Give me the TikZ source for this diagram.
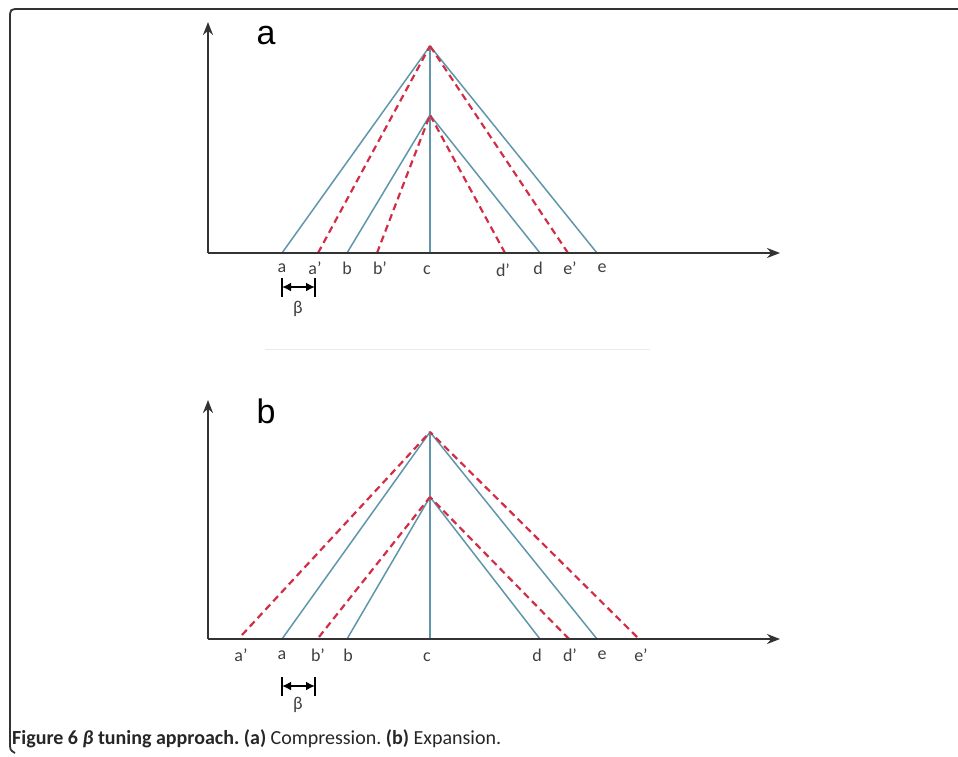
\documentclass[tikz,border=0pt]{standalone}
\usepackage{fontspec}
\setmainfont{Carlito}
\newfontfamily\arialf{Liberation Sans}
\usetikzlibrary{arrows.meta}
\definecolor{lblue}{RGB}{95,150,170}
\definecolor{ldred}{RGB}{210,45,70}
\frenchspacing
\begin{document}
\begin{tikzpicture}[x=1pt,y=-1pt,
 axis/.style={line width=2.4pt, draw=black!80, -{Stealth[length=13pt,width=10pt]}},
 sol/.style={draw=lblue, line width=1.5pt},
 dsh/.style={draw=ldred, line width=2.2pt, dash pattern=on 7pt off 4.5pt},
 lbl/.style={font=\fontsize{18}{18}\selectfont, text=black!75, inner sep=0pt},
 big/.style={font=\arialf\fontsize{34}{34}\selectfont, inner sep=0pt},
 brk/.style={line width=1.8pt, black},
 brkarr/.style={line width=1.8pt, black, {Latex[length=9pt,width=9pt]}-{Latex[length=9pt,width=9pt]}}
]
\useasboundingbox (0,0) rectangle (958,756);
% frame
\draw[line width=1.8pt, black!80] (958,9) -- (20,9) .. controls (10,9) .. (10,19) -- (10,742) .. controls (10,750) .. (15,753);
% faint separator
\draw[black!8, line width=1pt] (265,349) -- (650,349);

% ===== Panel a =====
\coordinate (Oa) at (208,253);
\coordinate (Ya) at (208,22);
\coordinate (Xa) at (780,253);
\coordinate (Pa) at (430,46);
\coordinate (Qa) at (430,115);
\coordinate (aA) at (282,253);
\coordinate (aAp) at (318,253);
\coordinate (aB) at (347,253);
\coordinate (aBp) at (377,253);
\coordinate (aC) at (430,253);
\coordinate (aDp) at (505,253);
\coordinate (aD) at (540,253);
\coordinate (aEp) at (568,253);
\coordinate (aE) at (597,253);
\draw[sol] (aA) -- (Pa) -- (aE);
\draw[sol] (aB) -- (Qa) -- (aD);
\draw[sol] (aC) -- (Pa);
\draw[dsh] (aAp) -- (Pa);
\draw[dsh] (aEp) -- (Pa);
\draw[dsh] (aBp) -- (Qa);
\draw[dsh] (aDp) -- (Qa);
\draw[axis] (Oa) -- (Ya);
\draw[axis] (Oa) -- (Xa);
\node[big] (ta) at (266,36) {a};
\node[lbl] (la) at (282,268) {a};
\node[lbl] (lap) at (315,268) {a’};
\node[lbl] (lb) at (347,268) {b};
\node[lbl] (lbp) at (380,268) {b’};
\node[lbl] (lc) at (427,270) {c};
\node[lbl] (ldp) at (503,270) {d’};
\node[lbl] (ld) at (538,268) {d};
\node[lbl] (lep) at (570,268) {e’};
\node[lbl] (le) at (602,268) {e};
\coordinate (ba1) at (282,287);
\coordinate (ba2) at (315,287);
\draw[brk] (282,278) -- (282,297);
\draw[brk] (315,278) -- (315,297);
\draw[brkarr] (ba1) -- (ba2);
\node[lbl] (betaa) at (298,309) {β};

% ===== Panel b =====
\coordinate (Ob) at (208,639);
\coordinate (Yb) at (208,400);
\coordinate (Xb) at (780,639);
\coordinate (Pb) at (430,432);
\coordinate (Qb) at (430,497);
\coordinate (bAp) at (242,635);
\coordinate (bA) at (282,639);
\coordinate (bBp) at (319,637);
\coordinate (bB) at (347,639);
\coordinate (bC) at (430,639);
\coordinate (bD) at (540,639);
\coordinate (bDp) at (569,639);
\coordinate (bE) at (597,639);
\coordinate (bEp) at (637,637);
\draw[sol] (bA) -- (Pb) -- (bE);
\draw[sol] (bB) -- (Qb) -- (bD);
\draw[sol] (bC) -- (Pb);
\draw[dsh] (bAp) -- (Pb);
\draw[dsh] (bEp) -- (Pb);
\draw[dsh] (bBp) -- (Qb);
\draw[dsh] (bDp) -- (Qb);
\draw[axis] (Ob) -- (Yb);
\draw[axis] (Ob) -- (Xb);
\node[big] (tb) at (266,411) {b};
\node[lbl] (mbap) at (241,655) {a’};
\node[lbl] (mba) at (282,655) {a};
\node[lbl] (mbbp) at (318,655) {b’};
\node[lbl] (mbb) at (348,655) {b};
\node[lbl] (mbc) at (427,657) {c};
\node[lbl] (mbd) at (537,655) {d};
\node[lbl] (mbdp) at (570,655) {d’};
\node[lbl] (mbe) at (602,655) {e};
\node[lbl] (mbep) at (641,655) {e’};
\coordinate (bb1) at (282,686);
\coordinate (bb2) at (315,686);
\draw[brk] (282,677) -- (282,696);
\draw[brk] (315,677) -- (315,696);
\draw[brkarr] (bb1) -- (bb2);
\node[lbl] (betab) at (298,705) {β};

% caption
\node[anchor=west, inner sep=0pt, text=black!85, font=\fontsize{20}{20}\selectfont] (cap) at (12,739)
 {\textbf{Figure 6 \textit{β} tuning approach.} \textbf{(a)} Compression. \textbf{(b)} Expansion.};
\end{tikzpicture}
\end{document}
